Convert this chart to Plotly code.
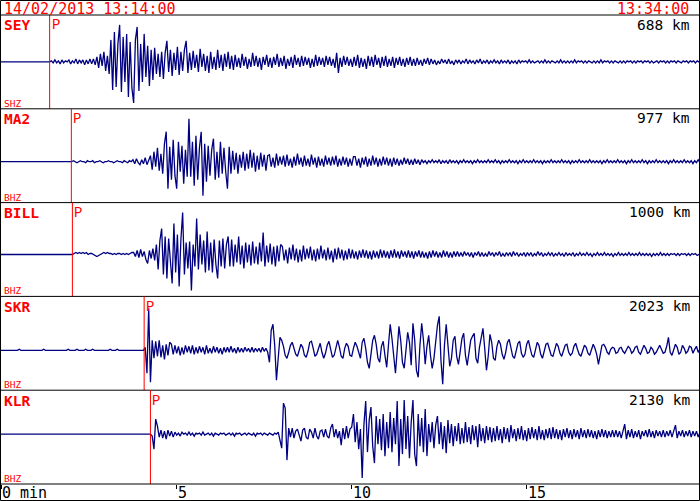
import numpy as np
import plotly.graph_objects as go
from plotly.subplots import make_subplots

# ---------------- data ----------------
stations = ["SEY", "MA2", "BILL", "SKR", "KLR"]
channels = ["SHZ", "BHZ", "BHZ", "BHZ", "BHZ"]
distances = ["688 km", "977 km", "1000 km", "2023 km", "2130 km"]
p_times = [1.37, 1.99, 2.02, 4.07, 4.25]      # minutes after 13:14:00
first_sample = [1.37, 2.00, 2.02, 0.00, 4.25]  # time of first listed sample
dc_offsets = [0, -6, -5, -7, 3]
dt = 0.05                                       # minutes between samples
record_start = -0.05
start_label = "14/02/2013 13:14:00"
end_label = "13:34:00"
tick_minutes = [0, 5, 10, 15]
tick_labels = ["0 min", "5", "10", "15"]

sey = [0, 1, -1, 2, -1, 1, -2, 2, -1, 1, 0, 2, -2, 1, -1, 3, -2, 2, -1, 2, -3, 2, -2, 3, -2, 3, -3,
       5, -6, 8, -4, 10, -9, 6, -12,
       22, -28, 30, -25, 18, 37, -30, 25, -20, 28, -35, 20, -26, -41, 22, 35,
       -29, 18, -20, 28, -15, 16, -24, 12, -18,
       14, -12, 8, -15, 10, -17, 9, 21, -10, 12, -14, 9, -8, 15, -13, 10, -9, 12, 21, -11,
       9, -8, 11, -6, 7, -10, 13, -5, 8, -9, 6, -11, 10, -7, 5, -8, 12, -6, 7, -9, 8, -5, 10, -7, 6, -8,
       7, -5, 4, -6, 8, -4, 5, -7, 3, -5, 9, -4, 6, -5, 4, -8, 5, -3, 7, -5,
       4, -6, 5, -3, 8, -5, 4, -4, 6, -7, 3, -4, 5, -6, 7, -3, 4, -5, 6, -4,
       5, -3, 4, -6, 3, -5, 7, -4, 5, -3, 4, -5, 6, -3, 5, -4, 3, -6, 9, -11,
       4, -5, 6, -3, 5, -4, 3, -5,
       5, -4, 7, -6, 4, -5, 3, -7, 6, -4, 5, -5, 7, -3, 4, -6, 5, -4, 6, -5, 3, -4, 5, -6, 4, -3, 5, -4,
       3, -5, 4, -3, 5, -4, 3, -4, 4, -3, 2, -4, 3, -2, 4, -3,
       3, -2, 2, -3, 1, -2, 3, -1, 2, -2, 3, -2, 1, -3, 2, -1, 2, -2, 1, -1,
       3, -2, 2, -1, 1, -2, 2, -1, 3, -2, 1, -1, 2, -2, 1, -1, 2, -1, 1, -2,
       2, -1, 1, -1, 2, -2, 1, -1, 1, -2, 2, -1, 1, 0, 1, -1, 2, -1, 1, -1,
       0, 1, -1, 1, -1, 2, -1, 1, -1, 1, 0, -1, 1, -1, 2, -1, 1, -1, 1, -1,
       1, -1, 2, -1, 1, 0, 1, -1, 1, -1, 1, 0, -1, 1, -1, 1, -1, 2, -1, 1,
       0, 1, -1, 1, -1, 1, 0, -1, 1, -1, 1, -1, 1, 0, 1, -1, 1, -1, 1, 0,
       1, -1, 1, 0, 1, -1, 1, -1, 0, 1, -1, 1, 0, 1, -1, 1, -1, 1, 0, 1,
       -1, 1, 0, -1, 1, 0, 1, -1, 1, 0, 1, -1, 1, 0, 1, 0]

ma2 = [0, 1, 0, -1, 0, 1, 0, 0, -1, 1, 0, 0, 1, -1, 0, 0, 1, 0, -1, 0, 0, 1, 0, 0, -1, 0, 1, 0, 0, -1, 1, 0, -1, 1, 0,
       2, -2, 3, -1, -3, 2, -2, 4, -3, 2,
       6, -8, 10, -5, 14, -9, 8, -12,
       18, 30, -27, 15, -18, 22, -14, -27, 20, -10, 16, -22, 12, -15,
       43, -15, 20, -24, 26, -18, 14, 30, -34, 18,
       -20, 16, -14, 12, 23, -18, 10, -16, 20, -12, 14, -10, -27, 15, -12,
       11, -8, 9, -12, 7, -6, 10, -9, 8, -7, 12, -6, 9, -10, 6, -8, 9, -5, 7, -9, 6,
       7, -5, 4, -6, 8, -4, 5, -3, 6, -5, 7, -4, 3, -6, 5, -4, 8, -3, 4, -5, 6, -4, 3, -5, 7, -3, 4, -6, 5, -4,
       3, -5, 6, -3, 4, -4, 5, -3, 6, -5, 3, -4, 5, -3, 4, -5, 3, -4, 5,
       5, -4, 3, -6, 4, -3, 5, -5, 3, -4, 6, -3, 4, -5, 3, -4, 5, -3, 4, -4, 3, -5, 4, -3, 3, -4, 2, -3, 4, -2,
       3, -3, 2, -3, 3, -2, 2, -3,
       2, -1, 1, -2, 1, -1, 2, -1, 1, -1, 2, -2, 1, -1, 1, -2, 2, -1, 1, -1,
       1, -2, 1, -1, 2, -1, 1, -1, 1, -2, 1, -1, 2, -1, 1, -1, 1, -1, 2, -1,
       1, -1, 2, -1, 1, -2, 1, -1, 1, -1, 2, -1, 1, -1, 1, -2, 1, -1, 2, -1,
       1, -1, 1, -1, 2, -1, 1, -1, 1, -2, 1, -1, 1, -1, 2, -1, 1, -1, 1, -1,
       2, -1, 1, -1, 1, -2, 1, -1, 1, -1, 2, -1, 1, -1, 1, -1, 2, -1, 1, -1,
       1, -1, 1, -2, 1, -1, 2, -1, 1, -1, 1, -1, 2, -1, 1, -1, 1, -2, 1, -1,
       2, -1, 1, -1, 1, -1, 2, -1, 1, -2, 1, -1, 1, -1, 2, -1, 1, -1, 1, -1,
       1, -2, 1, -1, 2, -1, 1, -1, 1, -1, 2, -1, 1, -1, 1, -2, 1, -1, 2, -1, 1]

bill = [0, 1, 2, 1, 2, 1, 2, 1, 2, 0, 1, 1, 0, -1, -2, -1, 0, 1, 2, 1, 2, 1, 1, 0, 1, 0, 1, 1, 0, 1, 0, 1, 0, 1, 2,
        2, -2, 4, -3, 5, -2, 3, -5, -9, 4, -4, 6, -6,
        10, -15, 14, 26, -20, 18, -24, 16, -12, -29, 31, -18, 20, -32, 15, 42, -20,
        12, -14, 13, -36, 10, -12, 36, -15, 20, -10, 14, -18,
        23, -16, 12, -18, 15, -10, -24, 14, -12, 16, -14, 10, 18, -12, 15,
        -12, 10, -8, 18, -10, 9, -14, 12, -8, 10, -11, 13, -9, 8, -10, 12, -7, 22, -12, 9, -8, 11, -10, 8, -12, 9, -7, 10,
        8, -6, 5, -9, 7, -5, 10, -6, 6, -8, 5, -7, 9, -5, 6, -4, 8, -6, 5, -7,
        6, -5, 9, -4, 5, -6, 7, -5, 4, -8, 6, -5, 7, -4, 5, -6, 4, -5, 6, -4,
        5, -4, 3, -5, 4, -3, 5, -3, 4, -4, 3, -5, 4, -3, 3, -4, 5, -3, 4, -3,
        3, -4, 4, -3, 5, -3, 3, -4, 4, -2, 3, -3, 4, -3, 3, -4, 3, -2, 4, -3,
        3, -3, 2, -4, 3, -3, 4, -2, 3, -3, 2, -3, 4, -2, 3, -3, 2, -3, 3, -2,
        3, -2, 2, -2, 3, -1, 2, -2, 2, -3, 2, -1, 3, -2, 2, -2, 1, -2, 3, -1,
        2, -2, 2, -1, 3, -2, 1, -2, 2, -1, 2, -2, 3, -1, 2, -2, 1, -1, 2, -2,
        2, -1, 2, -2, 1, -1, 3, -1, 2, -2, 1, -1, 2, -1, 2, -2, 1, -1, 2, -1,
        1, -2, 2, -1, 1, -1, 2, -2, 1, -1, 2, -1, 1, -1, 2, -1, 1, -2, 1, -1,
        2, -1, 1, -1, 2, -1, 1, -1, 1, -2, 1, -1, 2, -1, 1, -1, 1, -1, 2, -1,
        1, -1, 1, -1, 2, -1, 1, -1, 1, -1, 1, -2, 1, -1, 1, -1, 2, -1, 1, -1,
        1, -1, 1, 0, 1, -1, 1, -1, 1, 0, 1, -1, 1, -1, 1, 0, 1, -1, 0, 0]

skr = [0, 0, 0, 0, 0, 0, 0, 0, 0, 0,
       1, 0, 0, 0, 0, 0, 0, 0, 0, 0,
       0, 0, 0, 0, 1, 0, 0, 0, 0, 0,
       0, 0, 0, 0, 0, 0, 0, 0, 1, 0,
       0, 0, 0, 1, 0, 0, 0, 0, 1, 0,
       0, 0, 1, 0, 0, 0, 0, 0, 0, 0,
       0, 0, 1, 0, 0, 0, 1, 0, 0, 0,
       0, 0, 0, 0, 0, 0, 0, 0, 0, 0,
       0, 0,
       3, -23, 42, -32, 10,
       -8, 9, -6, 10, -7, 5, -9, 6, -5, 8,
       6, -4, 5, -3, 4, -5, 3, -4, 5, -2, 4, -3, 5, -4, 3, -3, 4, -2, 3, -4, 5, -3, 2, -3, 4, -2, 3, -3,
       2, -4, 3, -2, 3, -2, 4, -2, 2, -3, 3, -2, 2, -2, 3, -1, 2, -2, 3, -2, 2, -1, 2, -2, 3, -1, 2, -2,
       -12, 20, 26, 5, -30, -8, 13,
       10, 4, -5, -8, -2, 5, 8, 2, -4, -6, 0, 6, 3, -5, -7, -1, 8, 9, 2, -6,
       -4, 3, 7, -2, -8, -3, 5, 9, 1, -7, -5, 4, 10, 3, -6, -8, 2, 7, 4, -5,
       -6, 2, 8, 4, -3, -8, 8, 12, 2, -12, -18, -4, 10, 15, 6, -8, -12, 4, 9, -5, -17,
       5, 26, 12, -10, -23, 0, 24, 10, -12, -18, 2, 18, 8, -15, 27, 10, -20, -27, 5, 27,
       10, -14, 4, 15, -5, -18, -8, 12, 25, 34, -10, -34, 5, 26,
       4, -16, -8, 10, 14, -6, -14, 2, 12, 17, -5, -15, -4, 10, 14, 17, -8, -13, 3, 12,
       22, 2, -20, -6, 16, 8, -8, -10,
       4, 10, 6, -4, -9, -2, 8, 11, 3, -6, -8, 0, 7, 9, -3, -7, -4, 6, 10, 2,
       -5, -7, 1, 8, 5, -4, -8, -1, 6, 7, 0, -5, -6, 2, 7, 4, -3, -6, -1, 5,
       6, -2, -5, -3, 4, 7, 1, -4, -6, 0, 5, 3, -3, -5, 1, 6, 2, -4, -14, -2, 5, 6,
       3, -2, -4, 1, 3, 2, -3, -2, 2, 3, -1, -3, 0, 4, 2, -3, -1, 3, 4, -2,
       -4, 1, 5, 2, -3, -2, 3, 1, -4, -2, 2, 5, 1, -3, -2, 4, 13, -2, -5, 1,
       6, 3, -4, -2, 5, 2, -3, -1, 4, 3, -3, 1, 4, -2, 1]

klr = [0, -2, -15, 15, 8, -3,
       4, -4, 3, -5, 4, -2, 3, -3,
       2, -1, 1, -2, 2, 0, 1, -1, 2, -1, 1, -2, 1, 0, 1, -1, 2, -1, 0, 1,
       -1, 1, -2, 1, 0, -1, 1, 0, 1, -1, 0, 1, -1, 1, -2, 1, 0, 1, -1, 0,
       1, -1, 1, 0, -1, 1, -2, 1, 0, 1, -1, 1, 0, -1, 1, 0, -1, 1, 0,
       2, -6, -14, 31, 26, -26, 6, -3,
       6, -4, 3, 5, -2, -7, 4, 6, -3, -5, 5, 2, -4, 6, -2, -5, 3, 4, -3, 5, -2, -4, 6,
       10, -3, 5, -4, 3, -11, 6, -5, 8, -4, 5, 7,
       20, -8, 12, -15, 5, -44, 10, 33, -18, 14, 27, -12, -29, 18, -10, 15, -16, 20, -22, 12,
       -14, 22, -18, 16, -10, 33, -32, 15, -20, 34, -15, 18, -24, 12, 34, -20, -32, 20, -12, 16,
       -18, 25,
       -22, 10, -8, 12, -14, 9, 18, -10, 12, -15, 8, -19, 14, -9, 10, -12, 8, -7, 11, -10,
       6, -9, 12, -8, 7, -10, 9, -6, 8, -13, 10, -7, 6, -9, 8, -6, 7, -8, 6, -7,
       8, -6, 5, -9, 7, -5, 6, -8, 9, -4, 5, -7, 6, -5, 8, -6, 4, -7, 6, -5,
       7, -4, 5, -6, 8, -5, 4, -6, 5, -4, 6, -5, 7, -4, 5, -5, 4, -6, 5, -3,
       6, -4, 4, -5, 5, -3, 4, -5, 6, -3, 4, -4, 5, -3, 4, -4, 3, -5, 4, -3,
       5, -3, 4, -4, 3, -3, 4, -3,
       4, -3, 3, -4, 3, 10, -5, 4, -3, 5, -4, 3, -3, 4, -5, 3, -2, 4, -3, 5,
       -3, 3, -4, 4, -2, 3, -3, 4, -3, 3, -2, 4, -3, 3, 9, -4, 3, -2, 4, -3,
       3, -2, 4, -3, 3, -2, 3, -3, 2, -2]

traces = [sey, ma2, bill, skr, klr]

# ---------------- layout geometry (pixels) ----------------
W, H = 700, 501
TOP, BOT = 15, 484
n = len(stations)
ph = (BOT - TOP) / n
PX_PER_MIN = 35.0
X0_PX = 1.7
xrange_ = [(0 - X0_PX) / PX_PER_MIN, (W - X0_PX) / PX_PER_MIN]
half = ph / 2.0

def py(y):
    return (BOT - y) / (BOT - TOP)

def pxx(x):
    return x / W

RED = "#ff0000"
NAVY = "#000080"
MONO = "DejaVu Sans Mono"

fig = make_subplots(rows=n, cols=1, shared_xaxes=True, vertical_spacing=0)

for i in range(n):
    vals = np.array(traces[i], dtype=float)
    t = first_sample[i] + np.arange(len(vals)) * dt
    if first_sample[i] > record_start:
        t = np.concatenate([[record_start], t])
        vals = np.concatenate([[0.0], vals])
    fig.add_trace(go.Scatter(x=t, y=vals + dc_offsets[i], mode="lines",
                             line=dict(color=NAVY, width=1.3), hoverinfo="skip",
                             showlegend=False), row=i + 1, col=1)

ann = []
shapes = []
for i in range(n):
    r = i + 1
    xa = "x" if r == 1 else f"x{r}"
    ya = "y" if r == 1 else f"y{r}"
    top = TOP + i * ph
    bottom = top + ph
    shapes.append(dict(type="line", xref=xa, yref=f"{ya} domain", x0=p_times[i], x1=p_times[i],
                       y0=0, y1=1, line=dict(color=RED, width=1)))
    ann.append(dict(text="P", xref=xa, yref="paper", x=p_times[i], xshift=0, xanchor="left",
                    y=py(top + 10.5), yanchor="middle", showarrow=False,
                    font=dict(family="Liberation Mono", size=14, color=RED)))
    ann.append(dict(text=f"<b>{stations[i]}</b>", xref="paper", yref="paper", x=pxx(2), xanchor="left",
                    y=py(top + 10.5), yanchor="middle", showarrow=False,
                    font=dict(family=MONO, size=14.5, color=RED)))
    ann.append(dict(text=distances[i], xref="paper", yref="paper", x=pxx(692), xanchor="right",
                    y=py(top + 9.5), yanchor="middle", showarrow=False,
                    font=dict(family=MONO, size=14.5, color="black")))
    ann.append(dict(text=channels[i], xref="paper", yref="paper", x=pxx(1.5), xanchor="left",
                    y=py(bottom - 5.5), yanchor="middle", showarrow=False,
                    font=dict(family=MONO, size=9.5, color=RED)))
    shapes.append(dict(type="line", xref="paper", yref="paper", x0=0, x1=1,
                       y0=py(bottom), y1=py(bottom), line=dict(color="black", width=1)))

shapes.append(dict(type="line", xref="paper", yref="paper", x0=0, x1=1,
                   y0=py(TOP), y1=py(TOP), line=dict(color="black", width=1)))
shapes.append(dict(type="rect", xref="paper", yref="paper", x0=pxx(0.5), x1=pxx(699.5),
                   y0=py(500.5), y1=py(0.5), line=dict(color="black", width=1)))
ann.append(dict(text=start_label, xref="paper", yref="paper", x=pxx(2), xanchor="left",
                y=py(9.5), yanchor="middle", showarrow=False,
                font=dict(family=MONO, size=15, color=RED)))
ann.append(dict(text=end_label, xref="paper", yref="paper", x=pxx(691), xanchor="right",
                y=py(9.5), yanchor="middle", showarrow=False,
                font=dict(family=MONO, size=15, color=RED)))
for tm, lab in zip(tick_minutes, tick_labels):
    ann.append(dict(text=lab, xref=f"x{n}", yref="paper", x=tm, xanchor="left",
                    xshift=-2 if tm == 0 else -1,
                    y=py(492.5), yanchor="middle", showarrow=False,
                    font=dict(family=MONO, size=15, color="black")))

fig.update_xaxes(range=xrange_, showgrid=False, zeroline=False, showline=False,
                 showticklabels=False, ticks="", fixedrange=True)
fig.update_xaxes(ticks="outside", tickvals=tick_minutes, ticklen=4, tickwidth=1,
                 tickcolor="black", row=n, col=1)
fig.update_yaxes(range=[-half, half], showgrid=False, zeroline=False, showline=False,
                 showticklabels=False, ticks="", fixedrange=True)

fig.update_layout(width=W, height=H, margin=dict(l=0, r=0, t=TOP, b=H - BOT, pad=0),
                  paper_bgcolor="white", plot_bgcolor="white",
                  shapes=shapes, annotations=ann, showlegend=False,
                  font=dict(family=MONO))

fig.write_html("out.html", config={"displayModeBar": False},
               post_script="document.body.style.margin='0px';document.body.style.overflow='hidden';")
